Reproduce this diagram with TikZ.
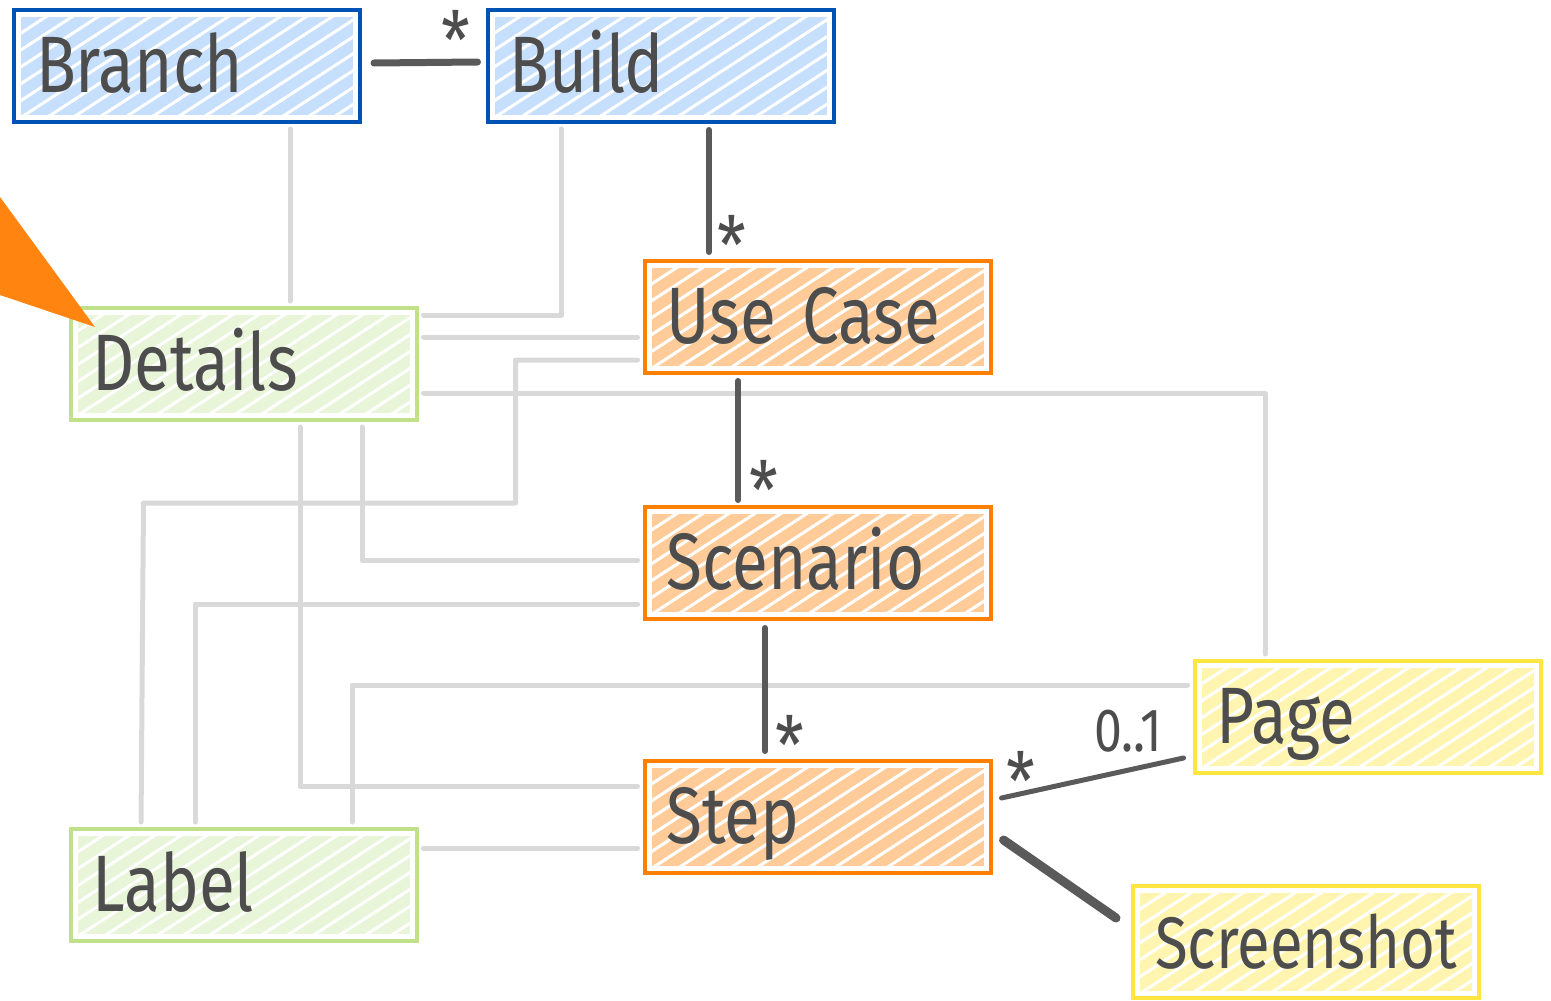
\documentclass[tikz,border=0pt]{standalone}
\usepackage{fontspec}
\setmainfont{Fira Sans}[FakeStretch=0.82]
\definecolor{txt}{HTML}{4D4D4D}
\definecolor{dark}{HTML}{5A5A5A}
\definecolor{lgray}{HTML}{D9D9D9}
\definecolor{bluefill}{HTML}{C6DFFC}
\definecolor{blueline}{HTML}{0052B4}
\definecolor{greenfill}{HTML}{E8F5D8}
\definecolor{greenline}{HTML}{C0E18A}
\definecolor{orangefill}{HTML}{FFCC99}
\definecolor{orangeline}{HTML}{FF8000}
\definecolor{yellowfill}{HTML}{FFF5B0}
\definecolor{yellowline}{HTML}{FFE640}
\definecolor{tri}{HTML}{FF8410}
\tikzset{
  entity/.style 2 args={draw=#2, line width=4pt, fill=white,
    minimum width=346pt, minimum height=112pt,
    text width=302pt, align=left, inner xsep=22pt, inner ysep=0pt,
    text height=60pt, text depth=8pt,
    font=\fontsize{80pt}{80pt}\selectfont, text=txt,
    path picture={
      \fill[#1] ([shift={(7pt,7pt)}]path picture bounding box.south west)
        rectangle ([shift={(-7pt,-7pt)}]path picture bounding box.north east);
      \foreach \k in {0,...,28}{
        \draw[white, line width=3pt]
          ([xshift=\k*26pt-260pt]path picture bounding box.south west) -- ++(33:520pt);
      }
    }},
  conn/.style={draw=dark, line width=6pt, line cap=round},
  lconn/.style={draw=lgray, line width=5pt, line cap=round, line join=round, shorten <=5pt, shorten >=5pt},
  mult/.style={text=txt, font=\fontsize{61pt}{61pt}\selectfont, inner sep=0pt},
  star/.style={text=txt, font=\fontsize{80pt}{80pt}\selectfont, inner sep=0pt}
}
\begin{document}
\begin{tikzpicture}[x=1pt,y=-1pt]
\useasboundingbox (0,0) rectangle (1551,1001);

\node[entity={bluefill}{blueline}] (branch) at (187,66) {Branch};
\node[entity={bluefill}{blueline}] (build) at (660.5,66) {Build};
\node[entity={greenfill}{greenline}] (details) at (243.5,364) {Details};
\node[entity={orangefill}{orangeline}] (usecase) at (817.5,317) {Use Case};
\node[entity={orangefill}{orangeline}] (scenario) at (817.5,563) {Scenario};
\node[entity={orangefill}{orangeline}] (step) at (817.5,817) {Step};
\node[entity={yellowfill}{yellowline}] (page) at (1367.5,717) {Page};
\node[entity={greenfill}{greenline}] (label) at (243.5,885) {Label};
\node[entity={yellowfill}{yellowline}, font=\fontsize{73pt}{73pt}\selectfont] (screenshot) at (1306,942) {Screenshot};

% orange pointer
\fill[tri] (0,197) -- (95,327) -- (0,295) -- cycle;

% light gray connectors
\draw[lconn] ([xshift=103pt]branch.south) -- ([xshift=46.5pt]details.north);
\draw[lconn] ([xshift=-99.5pt]build.south) |- ([yshift=49pt]details.east);
\draw[lconn] ([yshift=27pt]details.east) -- ([yshift=-20pt]usecase.west);
\draw[lconn] ([yshift=-43pt]usecase.west) -- ++(-127,0) -- ++(0,143) -- ++(-372,0) -- ([xshift=-102.5pt]label.north);
\draw[lconn] ([yshift=-29pt]details.east) -| ([xshift=-102.5pt]page.north);
\draw[lconn] ([xshift=118.5pt]details.south) |- ([yshift=3pt]scenario.west);
\draw[lconn] ([yshift=-41pt]scenario.west) -| ([xshift=-48.5pt]label.north);
\draw[lconn] ([xshift=56.5pt]details.south) |- ([yshift=31pt]step.west);
\draw[lconn] ([yshift=32pt]page.west) -| ([xshift=108.5pt]label.north);
\draw[lconn] ([yshift=37pt]label.east) -- ([yshift=-31pt]step.west);

% dark connectors
\draw[conn, line width=7pt] ([xshift=12pt,yshift=3pt]branch.east) -- ([xshift=-8pt,yshift=4pt]build.west);
\draw[conn] ([xshift=48.5pt,yshift=-6pt]build.south) -- ([xshift=-108.5pt,yshift=7pt]usecase.north);
\draw[conn] ([xshift=-79.5pt,yshift=-6pt]usecase.south) -- ([xshift=-79.5pt,yshift=5pt]scenario.north);
\draw[conn] ([xshift=-52.5pt,yshift=-7pt]scenario.south) -- ([xshift=-52.5pt,yshift=8pt]step.north);
\draw[conn, line width=5pt] ([xshift=9pt,yshift=19pt]step.east) -- ([xshift=-9pt,yshift=-41pt]page.west);
\draw[conn, line width=9pt] ([xshift=11pt,yshift=-23pt]step.east) -- ([xshift=-15pt,yshift=24pt]screenshot.west);

% multiplicities
\node[star] (m1) at (456,40) {*};
\node[star] (m2) at (732,245) {*};
\node[star] (m3) at (764,490) {*};
\node[star] (m4) at (790,745) {*};
\node[star] (m5) at (1021,781) {*};
\node[mult] (m6) at (1128,731) {0..1};
\end{tikzpicture}
\end{document}
